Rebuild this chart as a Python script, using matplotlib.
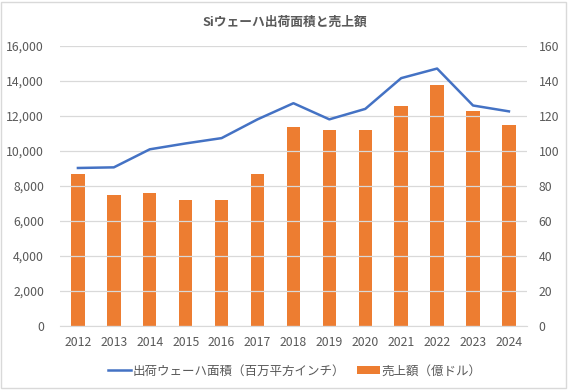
import matplotlib.pyplot as plt
from matplotlib.patches import Rectangle

plt.rcParams['font.family'] = ['Noto Sans CJK JP', 'DejaVu Sans']

years = ['2012', '2013', '2014', '2015', '2016', '2017', '2018',
         '2019', '2020', '2021', '2022', '2023', '2024']
area_msi = [9031, 9067, 10098, 10434, 10738, 11810, 12732,
            11810, 12407, 14165, 14713, 12602, 12266]
sales_100m_usd = [87, 75, 76, 72, 72, 87, 114, 112, 112, 126, 138, 123, 115]

title = 'Siウェーハ出荷面積と売上額'
line_label = '出荷ウェーハ面積（百万平方インチ）'
bar_label = '売上額（億ドル）'

text_color = '#595959'
grid_color = '#D9D9D9'
blue = '#4472C4'
orange = '#ED7D31'

fig = plt.figure(figsize=(5.69, 3.90), dpi=100)
ax = fig.add_axes([0.1054, 0.164, 0.8206, 0.718])
ax2 = ax.twinx()

x = list(range(len(years)))

# bars on the right axis, line on the left axis drawn above
bars = ax2.bar(x, sales_100m_usd, width=0.375, color=orange, label=bar_label, zorder=2)
ax2.set_ylim(0, 160)
ax2.set_yticks(range(0, 161, 20))

ax.set_ylim(0, 16000)
ax.set_yticks(range(0, 16001, 2000))
ax.set_yticklabels([f'{v:,}' for v in range(0, 16001, 2000)])
ax.grid(axis='y', color=grid_color, linewidth=0.9)
ax.set_axisbelow(True)

ax.set_zorder(ax2.get_zorder() + 1)
ax.patch.set_visible(False)
line, = ax.plot(x, area_msi, color=blue, linewidth=1.8, label=line_label, zorder=3)

ax.set_xlim(-0.5, len(years) - 0.5)
ax.set_xticks(x)
ax.set_xticklabels(years)

for a in (ax, ax2):
    for s in a.spines.values():
        s.set_visible(False)
    a.tick_params(length=0, labelsize=8.8, colors=text_color)
ax.spines['bottom'].set_visible(True)
ax.spines['bottom'].set_color(grid_color)
ax.tick_params(axis='y', pad=11.5)
ax2.tick_params(axis='y', pad=8.6)
ax.tick_params(axis='x', pad=7)

fig.text(0.5, 0.942, title, ha='center', va='center', fontsize=9.2,
         fontweight='bold', color=text_color)

fig.legend([line, bars], [line_label, bar_label], loc='center',
           bbox_to_anchor=(0.518, 0.049), ncol=2, frameon=False,
           fontsize=9, labelcolor=text_color, handlelength=1.8,
           handletextpad=0.1, columnspacing=1.0)

fig.patches.append(Rectangle((0.002, 0.006), 0.992, 0.99, transform=fig.transFigure,
                             fill=False, edgecolor=grid_color, linewidth=1.0))

fig.savefig('out.png', dpi=100)
